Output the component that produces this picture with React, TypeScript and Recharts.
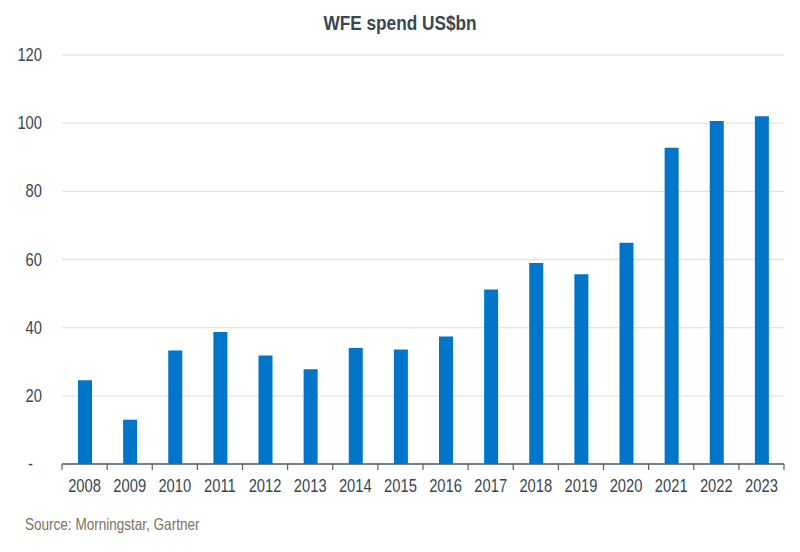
import React from "react"
import { BarChart, Bar, XAxis, YAxis, CartesianGrid } from "recharts"

const years = ["2008", "2009", "2010", "2011", "2012", "2013", "2014", "2015",
  "2016", "2017", "2018", "2019", "2020", "2021", "2022", "2023"]
const spend = [24.6, 13.0, 33.3, 38.7, 31.8, 27.8, 34.0, 33.6,
  37.4, 51.2, 59.0, 55.7, 64.9, 92.8, 100.6, 102.0]
const yTicks = [0, 20, 40, 60, 80, 100, 120]

// no Arial Narrow here, so squeeze Liberation Sans horizontally
const FONT = "'Liberation Sans', Arial, sans-serif"
const SQ = 0.82
const W = 800
const H = 552
const M = { top: 55, right: 16, left: 0, bottom: 48 }
const Y_W = 62
const BAND = (W - M.left - M.right - Y_W) / years.length

const data = years.map((y, i) => ({ year: y, value: spend[i] }))

const XTick = ({ x, y, payload, index }: any) => {
  const left = x - BAND / 2
  return (
    <g>
      <line x1={left} x2={left} y1={y - 8} y2={y - 2} stroke="#555f69" strokeWidth={1.2} />
      {index === years.length - 1 && (
        <line x1={left + BAND} x2={left + BAND} y1={y - 8} y2={y - 2} stroke="#555f69" strokeWidth={1.2} />
      )}
      <text transform={`translate(${x},${y + 20}) scale(${SQ},1)`} textAnchor="middle"
            fontSize={18} fill="#3b4650" fontFamily={FONT}>
        {payload.value}
      </text>
    </g>
  )
}

const YTick = ({ x, y, payload }: any) => {
  const zero = payload.value === 0
  return (
    <text transform={`translate(${zero ? x - 9 : x},${y + 6}) scale(${SQ},1)`} textAnchor="end"
          fontSize={18} fill="#3b4650" fontFamily={FONT}>
      {zero ? "-" : payload.value}
    </text>
  )
}

export default function App() {
  return (
    <div style={{ position: "absolute", left: 0, top: 0, width: W, height: H, background: "#fff" }}>
      <div style={{
        position: "absolute", top: 10, left: 0, width: W, textAlign: "center",
        fontFamily: FONT, fontWeight: "bold", fontSize: 21, lineHeight: "26px", color: "#3b4650",
        transform: `scaleX(${SQ})`,
      }}>
        WFE spend US$bn
      </div>
      <BarChart width={W} height={H} data={data} margin={M} barCategoryGap={0}>
        <CartesianGrid vertical={false} stroke="#e6e4e0" strokeWidth={1.3} />
        <XAxis dataKey="year" axisLine={{ stroke: "#555f69", strokeWidth: 1.3 }}
               tickLine={false} tick={<XTick />} interval={0} height={40} />
        <YAxis domain={[0, 120]} ticks={yTicks} width={Y_W} axisLine={false} tickLine={false}
               interval={0} tick={<YTick />} tickMargin={14} />
        <Bar dataKey="value" fill="#0075c9" barSize={14} isAnimationActive={false} />
      </BarChart>
      <div style={{
        position: "absolute", top: 514, left: 25, fontFamily: FONT, fontSize: 16.5, lineHeight: "20px",
        color: "#7d7266", transform: `scaleX(${SQ})`, transformOrigin: "left center", whiteSpace: "nowrap",
      }}>
        Source: Morningstar, Gartner
      </div>
    </div>
  )
}
